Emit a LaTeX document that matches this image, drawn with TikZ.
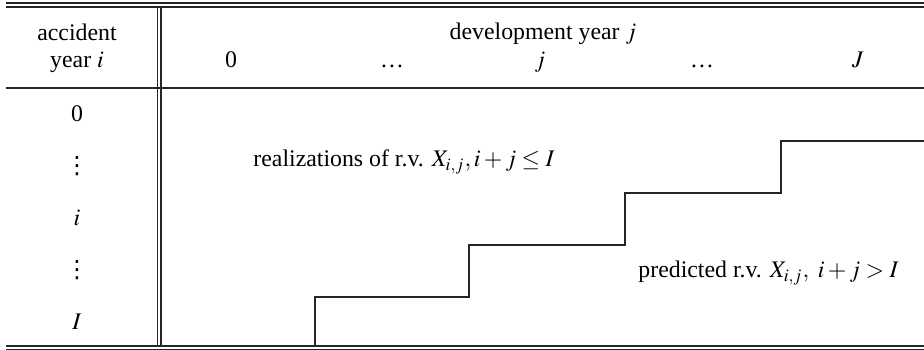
\documentclass[tikz,border=0pt]{standalone}
\usepackage{mathptmx}
\usepackage{fontspec}
\setmainfont{Liberation Serif}
\newfontfamily\dotsfont{DejaVu Sans}
\usepackage{tikz}
\usetikzlibrary{positioning}

\newcommand{\rowdots}{{\dotsfont ⋮}}

\begin{document}
\begin{tikzpicture}[
  x=0.42pt, y=-0.42pt,
  font=\fontsize{10}{11.5}\selectfont,
  rule/.style={line width=0.45pt, black!85},
  toprule/.style={line width=0.65pt, black!85},
  txt/.style={inner sep=0pt, align=center},
  stair/.style={line width=0.45pt, black!85}]

\useasboundingbox (0,0) rectangle (924,350);

% header
\node[txt] (acc) at (77,48) {accident\\year $i$};
\node[txt] (dev) at (543,34) {development year $j$};
\node[txt, anchor=base] (c0) at (231,67) {0};
\node[txt, anchor=base] (cd1) at (392,67) {\dots};
\node[txt, anchor=base] (cj) at (540,67) {$j$};
\node[txt, anchor=base] (cd2) at (702,67) {\dots};
\node[txt, anchor=base] (cJ) at (858,67) {$J$};

% row labels
\node[txt] (r0) at (77,114) {0};
\node[txt] (r1) at (77,166) {\rowdots};
\node[txt] (ri) at (77,218) {$i$};
\node[txt] (r2) at (77,270) {\rowdots};
\node[txt] (rI) at (77,322) {$I$};

% body texts
\node[txt, anchor=west] (real) at (253,162) {realizations of r.v. $X_{i,j}, i+j\le I$};
\node[txt, anchor=west] (pred) at (638,273) {predicted r.v. $X_{i,j},\ i+j>I$};

% rules
\draw[toprule] (6,3) -- (924,3);
\draw[rule] (6,7) -- (924,7);
\draw[rule] (6,88) -- (924,88);
\draw[rule] (6,346) -- (924,346);
\draw[rule] (6,349.5) -- (924,349.5);
\draw[rule] (157.3,7) -- (157.3,346);
\draw[rule] (161,7) -- (161,346);

% staircase
\draw[stair] (315,346) |- (469,297) |- (625,245) |- (781,193) |- (924,141);
\end{tikzpicture}
\end{document}
